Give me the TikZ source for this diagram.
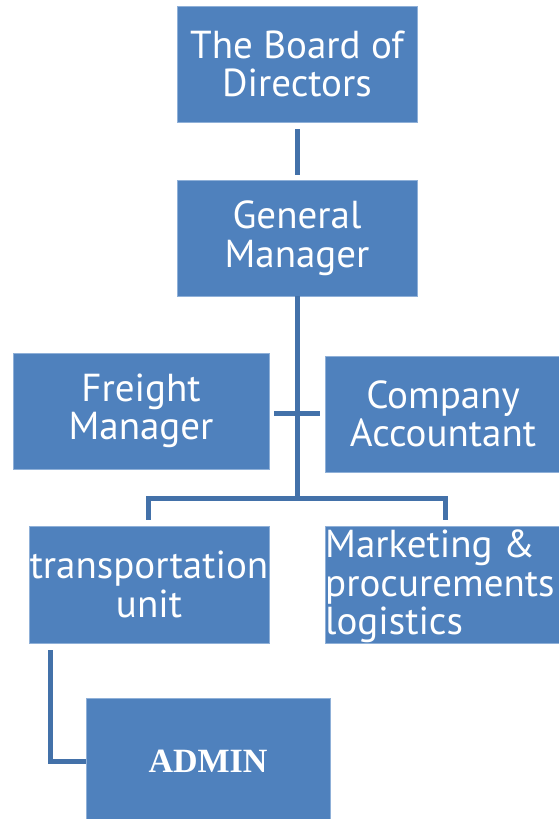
\documentclass[tikz,border=0pt]{standalone}
\usepackage{fontspec}
\setmainfont{PT Sans}
\newfontfamily\adminfont{Liberation Serif}
\usetikzlibrary{calc}
\definecolor{boxblue}{HTML}{4F81BD}
\definecolor{boxedge}{HTML}{8FB0D8}
\definecolor{linkblue}{HTML}{4371A9}
\tikzset{
  orgbox/.style={draw=boxedge, line width=0.8pt, fill=boxblue, text=white, inner sep=0pt,
    align=center, font=\fontsize{39}{38.5}\selectfont},
  link/.style={draw=linkblue, line width=5pt}
}
\begin{document}
\begin{tikzpicture}[x=1pt,y=-1pt]
\useasboundingbox (0,0) rectangle (559,819);
\begin{scope}
\clip (0,0) rectangle (559,819);
\node[orgbox, minimum width=240pt, minimum height=116pt] (board) at (297,64) {The Board of\\Directors};
\node[orgbox, minimum width=240pt, minimum height=116pt] (gm) at (297,238) {General\\Manager};
\node[orgbox, minimum width=256pt, minimum height=116pt] (freight) at (141,411) {Freight\\Manager};
\node[orgbox, minimum width=236pt, minimum height=116pt] (acct) at (443,414) {Company\\Accountant};
\node[orgbox, minimum width=240pt, minimum height=117pt] (trans) at (149,584.5) {transportation\\unit};
\node[orgbox, minimum width=236pt, minimum height=117pt] (mkt) at (443,584.5) {};
\node[text=white, align=left, anchor=north west, inner sep=0pt, font=\fontsize{39}{38.5}\selectfont] (mkttext) at (325,530) {Marketing \&\\procurements\\logistics};
\node[orgbox, minimum width=244pt, minimum height=126pt, font=\adminfont\bfseries\fontsize{34}{40}\selectfont] (admin) at (208,761) {ADMIN};
\end{scope}
% connectors
\draw[link] ($(board.south)+(0,7)$) -- ($(gm.north)+(0,-5)$);
\coordinate (hub) at (297,498);
\draw[link] (gm.south) -- (hub);
\coordinate (crossL) at (274,413);
\coordinate (crossR) at (320,413);
\draw[link] (crossL) -- (crossR);
\draw[link] ($(trans.north)+(-1,-6)$) |- (hub) -| ($(mkt.north)+(2,-6)$);
\draw[link] ($(trans.south west)+(22,7)$) |- (admin.west);
\end{tikzpicture}
\end{document}
